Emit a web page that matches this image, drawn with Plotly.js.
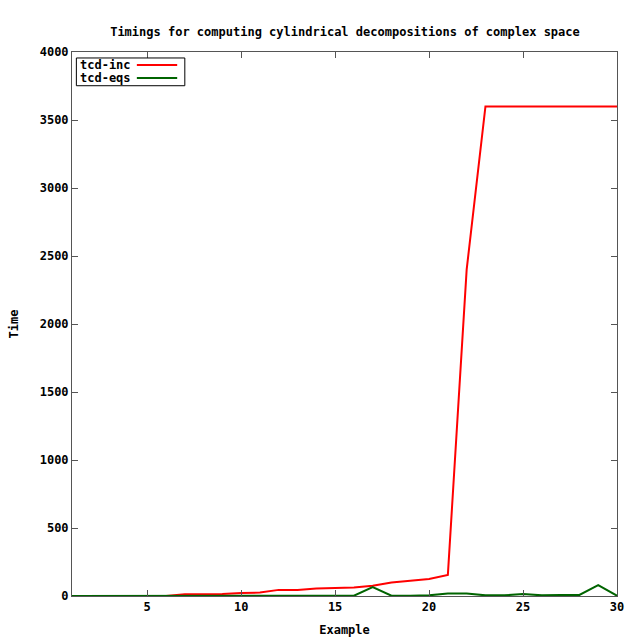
<!DOCTYPE html>
<html>
<head>
<meta charset="utf-8">
<script src="https://cdn.plot.ly/plotly-3.0.1.min.js"></script>
<style>
html,body{margin:0;padding:0;background:#fff;}
#chart{width:633px;height:639px;}
</style>
</head>
<body>
<div id="chart"></div>
<script>
const examples = [1,2,3,4,5,6,7,8,9,10,11,12,13,14,15,16,17,18,19,20,21,22,23,24,25,26,27,28,29,30];
const tcdInc = [0,0,0,0,0,0,12,12,14,22,25,45,45,55,58,62,75,100,112,125,155,2400,3600,3600,3600,3600,3600,3600,3600,3600];
const tcdEqs = [0,0,0,0,0,0,0,0,0,2,2,2,2,2,2,2,65,2,2,5,18,18,5,5,14,5,8,8,80,2];
const seriesNames = ["tcd-inc","tcd-eqs"];
const seriesColors = ["#ff0000","#006400"];
const xTicks = [5,10,15,20,25,30];
const yTicks = [0,500,1000,1500,2000,2500,3000,3500,4000];

const font = {family:"DejaVu Sans Mono, monospace", size:12, color:"#000"};

const traces = [
  {x:examples, y:tcdInc, name:seriesNames[0], type:"scatter", mode:"lines",
   line:{color:seriesColors[0], width:2}, showlegend:false},
  {x:examples, y:tcdEqs, name:seriesNames[1], type:"scatter", mode:"lines",
   line:{color:seriesColors[1], width:2}, showlegend:false}
];

// legend drawn in paper coordinates (text left, sample line right, gnuplot style)
const rowY = [0.976, 0.952];
const legAnn = seriesNames.map((n,i)=>({
  xref:"paper", yref:"paper", x:0.011, y:rowY[i], xanchor:"left", yanchor:"middle",
  text:"<b>"+n+"</b>", showarrow:false, font:font
}));
const legShapes = seriesNames.map((n,i)=>({
  type:"line", xref:"paper", yref:"paper",
  x0:0.119, x1:0.193, y0:rowY[i], y1:rowY[i],
  line:{color:seriesColors[i], width:2}
}));
legShapes.push({type:"rect", xref:"paper", yref:"paper", x0:0.008, x1:0.207, y0:0.938, y1:0.989,
  line:{color:"#000", width:1}, fillcolor:"rgba(0,0,0,0)"});

const layout = {
  width:633, height:639,
  margin:{l:72, r:16, t:52, b:43},
  paper_bgcolor:"#fff", plot_bgcolor:"#fff",
  font:font,
  title:{text:"<b>Timings for computing cylindrical decompositions of complex space</b>",
         font:font, x:0.545, xanchor:"center", y:0.951, yanchor:"middle"},
  xaxis:{range:[1,30], tickvals:xTicks, ticktext:xTicks.map(v=>"<b>"+v+"</b>"),
         ticks:"inside", ticklen:6, tickcolor:"#555", mirror:"ticks",
         showline:true, linecolor:"#555", linewidth:1, showgrid:false, zeroline:false,
         tickfont:font, title:{text:"<b>Example</b>", font:font, standoff:12}},
  yaxis:{range:[0,4000], tickvals:yTicks, ticktext:yTicks.map(v=>"<b>"+v+"</b>"),
         ticks:"inside", ticklen:6, tickcolor:"#555", mirror:"ticks",
         showline:true, linecolor:"#555", linewidth:1, showgrid:false, zeroline:false,
         tickfont:font, title:{text:"<b>Time</b>", font:font, standoff:18}},
  annotations:legAnn,
  shapes:legShapes
};

Plotly.newPlot("chart", traces, layout, {displayModeBar:false, staticPlot:true});
</script>
</body>
</html>
